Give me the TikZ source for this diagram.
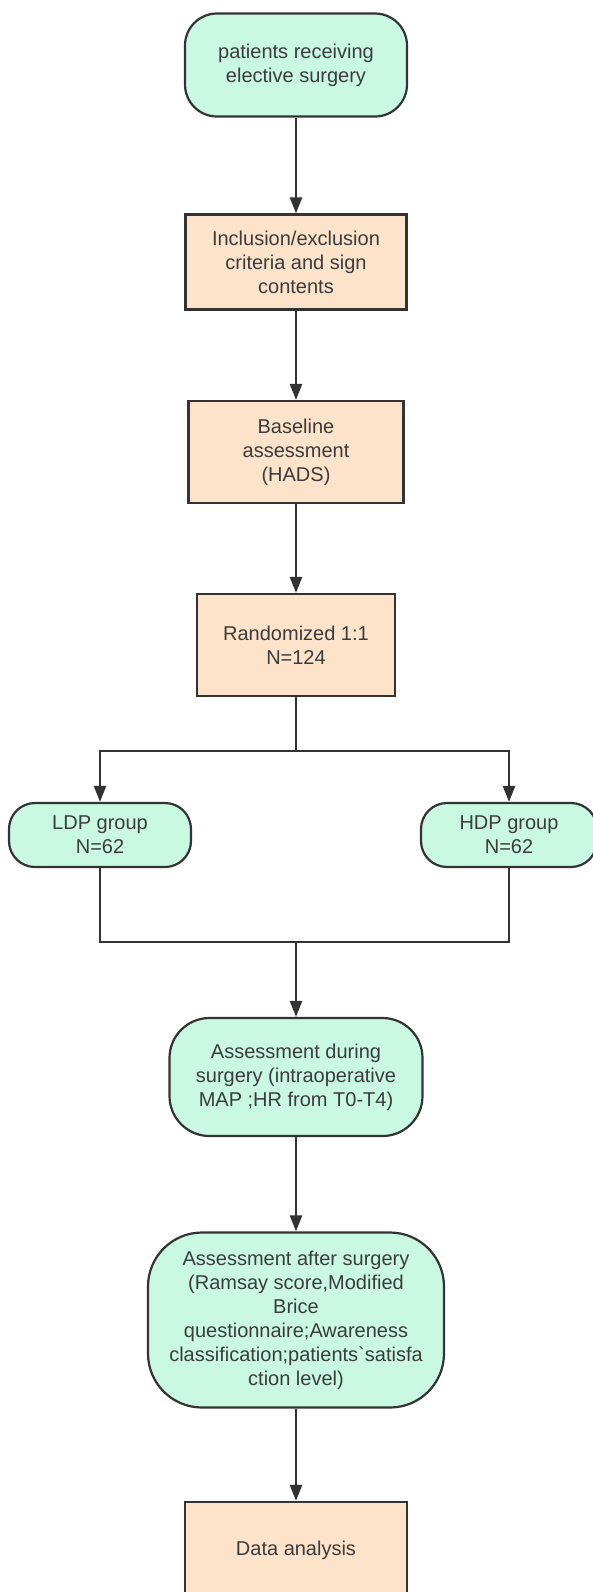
\documentclass[tikz,border=0pt]{standalone}
\usepackage{fontspec}
\setmainfont{Liberation Sans}
\definecolor{mintfill}{HTML}{C9F9E3}
\definecolor{peachfill}{HTML}{FEE3CB}
\definecolor{inkgray}{HTML}{333333}
\definecolor{txtgray}{HTML}{3C3C3C}
\usetikzlibrary{arrows.meta,positioning}
\tikzset{
  termA/.style={draw=inkgray,line width=1.1pt,fill=mintfill,rounded corners=16pt,
                align=center,text=txtgray,inner sep=0pt},
  procB/.style={draw=inkgray,line width=1.1pt,fill=peachfill,
                align=center,text=txtgray,inner sep=0pt},
  flowln/.style={-{Triangle[length=8pt,width=6pt]},line width=1.2pt,inkgray},
  joinln/.style={line width=1.2pt,inkgray},
}

\begin{document}
\begin{tikzpicture}[x=0.5pt,y=-0.5pt,font=\fontsize{10pt}{12pt}\selectfont]
        \useasboundingbox (0,0) rectangle (593,1592);
        % main column
        \node[termA,minimum width=111pt,minimum height=51.5pt] (start) at (296,65)
              {patients receiving\\elective surgery};
        \node[procB,minimum width=110.5pt,minimum height=47.5pt] (incl) at (296,262)
              {Inclusion/exclusion\\criteria and sign\\contents};
        \node[procB,minimum width=107.5pt,minimum height=51pt] (base) at (296,452)
              {Baseline\\assessment\\(HADS)};
        \node[procB,minimum width=99pt,minimum height=51pt] (rand) at (296,645)
              {Randomized 1:1\\N=124};
        % two arms
        \node[termA,rounded corners=13pt,minimum width=91pt,minimum height=32pt] (ldp) at (100,835)
              {LDP group\\N=62};
        \node[termA,rounded corners=13pt,minimum width=88pt,minimum height=32pt] (hdp) at (509,835)
              {HDP group\\N=62};
        \node[termA,rounded corners=20pt,minimum width=126.5pt,minimum height=59pt] (during) at (296,1077)
              {Assessment during\\surgery (intraoperative\\MAP ;HR from T0-T4)};
        \node[termA,rounded corners=27pt,minimum width=148pt,minimum height=87.5pt] (after) at (296,1320)
              {Assessment after surgery\\(Ramsay score,Modified\\Brice\\questionnaire;Awareness\\classification;patients\textasciigrave satisfa\\ction level)};
        \node[procB,minimum width=111pt,minimum height=48pt] (data) at (296,1550)
              {Data analysis};
        \coordinate (split) at (296,751);
        \coordinate (merge) at (296,942);
        % connectors
        \draw[flowln] (start) -- (incl);
        \draw[flowln] (incl) -- (base);
        \draw[flowln] (base) -- (rand);
        \draw[joinln] (rand) -- (split);
        \draw[flowln] (split) -| (ldp.north);
        \draw[flowln] (split) -| (hdp.north);
        \draw[joinln] (ldp.south) |- (merge) -| (hdp.south);
        \draw[flowln] (merge) -- (during);
        \draw[flowln] (during) -- (after);
        \draw[flowln] (after) -- (data);
      \end{tikzpicture}
\end{document}
